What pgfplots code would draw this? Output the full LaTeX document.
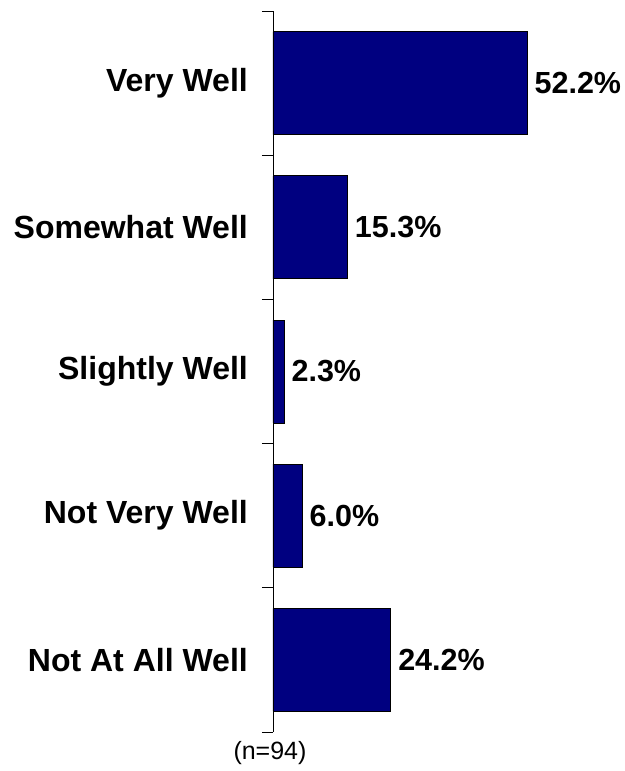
\documentclass[border=0pt]{standalone}
\usepackage{pgfplots}
\pgfplotsset{compat=1.18}
\usepackage{fontspec}
\setmainfont{Liberation Sans}
\definecolor{barnavy}{RGB}{0,0,128}
\begin{document}
\begin{tikzpicture}
\useasboundingbox (-273bp,11bp) rectangle (352bp,-760bp);
\begin{axis}[
  at={(0,0)}, anchor=north west,
  x=4.87bp, y=144.2bp,
  xmin=0, xmax=65,
  ymin=-0.5, ymax=4.5,
  axis x line=none,
  axis y line*=left,
  axis line style={black, line width=0.8bp},
  ytick={-0.5,0.5,1.5,2.5,3.5,4.5},
  yticklabels={},
  tick align=outside,
  ytick pos=left,
  major tick length=11bp,
  tick style={black, line width=0.8bp},
  extra y ticks={0,1,2,3,4},
  extra y tick labels={Not At All Well,Not Very Well,Slightly Well,Somewhat Well,Very Well},
  extra y tick style={major tick length=0pt, tick style={draw=none},
    yticklabel style={font=\bfseries\fontsize{32bp}{38bp}\selectfont, inner sep=0pt, anchor=east, xshift=-25bp}},
  xbar, bar width=0.714,
  clip=false,
  /pgf/number format/assume math mode=true,
  nodes near coords={\pgfmathprintnumber[fixed,fixed zerofill,precision=1,assume math mode=true]{\pgfplotspointmeta}\%},
  nodes near coords style={font=\bfseries\fontsize{30.5bp}{36bp}\selectfont, anchor=west, inner sep=0pt, xshift=7bp, text=black},
]
\addplot[fill=barnavy, draw=black, line width=0.8bp] coordinates {
  (24.2,0) (6.0,1) (2.3,2) (15.3,3) (52.2,4)
};
\end{axis}
\node[font=\fontsize{25bp}{30bp}\selectfont, anchor=base] at (-3bp,-748bp) {(n=94)};
\end{tikzpicture}
\end{document}
